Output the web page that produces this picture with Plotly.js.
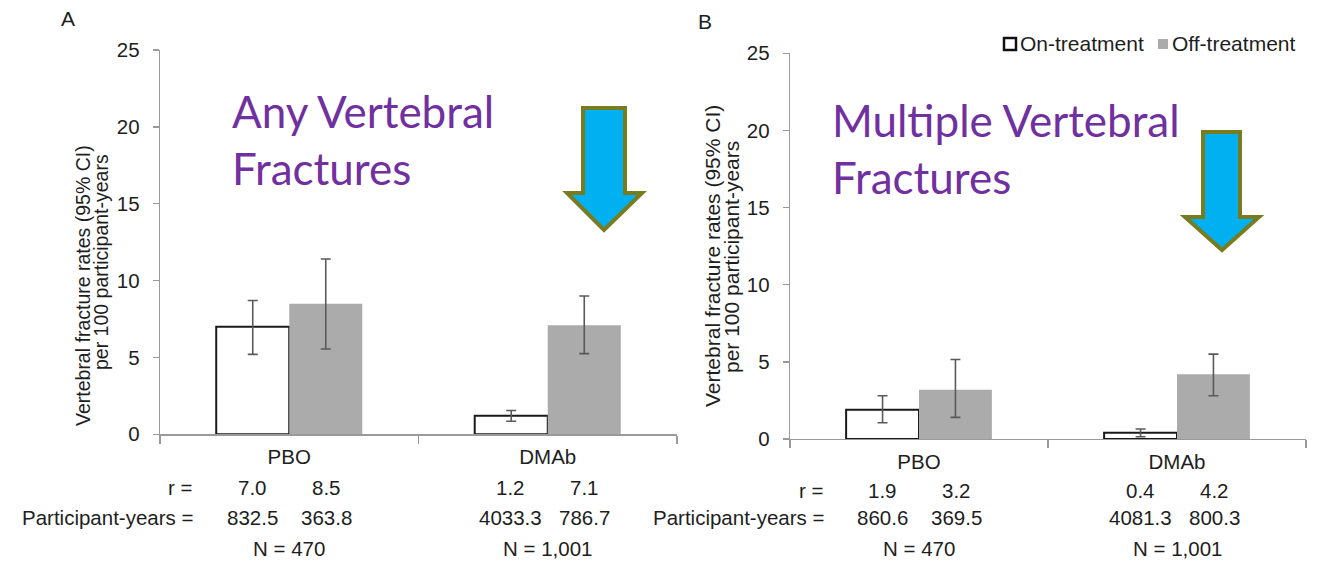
<!DOCTYPE html>
<html>
<head>
<meta charset="utf-8">
<script src="https://cdn.plot.ly/plotly-3.0.1.min.js"></script>
<style>
  html, body { margin: 0; padding: 0; background: #ffffff; }
  #chart { width: 1320px; height: 561px; }
</style>
</head>
<body>
<div id="chart"></div>
<script>
// ---------------- data ----------------
const categories = ['PBO', 'DMAb'];
const seriesNames = ['On-treatment', 'Off-treatment'];
const nLabels = ['470', '1,001'];

// Panel A: any vertebral fractures (rate per 100 participant-years, 95% CI)
const aOnRate = [7.0, 1.2];
const aOffRate = [8.5, 7.1];
const aOnLow = [5.2, 0.85];
const aOnHigh = [8.7, 1.55];
const aOffLow = [5.55, 5.25];
const aOffHigh = [11.4, 9.0];
const aOnPY = ['832.5', '4033.3'];
const aOffPY = ['363.8', '786.7'];

// Panel B: multiple vertebral fractures
const bOnRate = [1.9, 0.4];
const bOffRate = [3.2, 4.2];
const bOnLow = [1.05, 0.15];
const bOnHigh = [2.8, 0.65];
const bOffLow = [1.4, 2.8];
const bOffHigh = [5.15, 5.5];
const bOnPY = ['860.6', '4081.3'];
const bOffPY = ['369.5', '800.3'];

const yTicks = [0, 5, 10, 15, 20, 25];

// ---------------- helpers ----------------
const W = 1320, H = 561;
const px = v => v / W;
const py = v => 1 - v / H;
const FONT = 'Liberation Sans, Arial, sans-serif';
const TXT = '#1e1e1e';
const GRAY = '#ababab';
const FS = 20.5;

function errBar(rate, lo, hi) {
  return {
    type: 'data', symmetric: false,
    array: hi.map((h, i) => +(h - rate[i]).toFixed(3)),
    arrayminus: lo.map((l, i) => +(rate[i] - l).toFixed(3)),
    color: '#5a5a5a', thickness: 1.6, width: 5
  };
}
function onTrace(rate, lo, hi, xa, ya) {
  return {
    type: 'bar', name: seriesNames[0], x: categories, y: rate,
    xaxis: xa, yaxis: ya, legendgroup: 'on', showlegend: false,
    marker: { color: '#ffffff', line: { color: '#1a1a1a', width: 2 } },
    error_y: errBar(rate, lo, hi), hoverinfo: 'x+y'
  };
}
function offTrace(rate, lo, hi, xa, ya) {
  return {
    type: 'bar', name: seriesNames[1], x: categories, y: rate,
    xaxis: xa, yaxis: ya, legendgroup: 'off', showlegend: false,
    marker: { color: GRAY, line: { color: GRAY, width: 0 } },
    error_y: errBar(rate, lo, hi), hoverinfo: 'x+y'
  };
}

const data = [
  onTrace(aOnRate, aOnLow, aOnHigh, 'x', 'y'),
  offTrace(aOffRate, aOffLow, aOffHigh, 'x', 'y'),
  onTrace(bOnRate, bOnLow, bOnHigh, 'x2', 'y2'),
  offTrace(bOffRate, bOffLow, bOffHigh, 'x2', 'y2')
];

function xAxis(domain, anchor) {
  return {
    domain: domain, anchor: anchor, type: 'category',
    showline: true, linecolor: '#9a9a9a', linewidth: 1.3,
    ticks: 'outside', tickson: 'boundaries', ticklen: 8, tickwidth: 1.3, tickcolor: '#9a9a9a',
    showgrid: false, zeroline: false, automargin: false,
    tickfont: { family: FONT, size: FS, color: TXT }, ticklabelstandoff: 4,
    fixedrange: true
  };
}
function yAxis(domain, anchor) {
  return {
    domain: domain, anchor: anchor, range: [0, 25],
    tickvals: yTicks, ticktext: yTicks.map(String),
    showline: true, linecolor: '#9a9a9a', linewidth: 1.3,
    ticks: 'outside', ticklen: 6, tickwidth: 1.3, tickcolor: '#9a9a9a',
    showgrid: false, zeroline: false, automargin: false,
    tickfont: { family: FONT, size: FS, color: TXT }, ticklabelstandoff: 9,
    fixedrange: true
  };
}

// ---------------- annotations ----------------
const ann = [];
function txt(text, x, y, opts) {
  ann.push(Object.assign({
    text: text, x: x, y: y, xref: 'paper', yref: 'paper',
    showarrow: false, xanchor: 'center', yanchor: 'middle',
    font: { family: FONT, size: FS, color: TXT }
  }, opts || {}));
}

// panel letters
txt('A', px(68), py(18), { font: { family: FONT, size: 21, color: TXT } });
txt('B', px(705), py(22), { font: { family: FONT, size: 21, color: TXT } });

// y-axis titles (two lines each)
txt('Vertebral fracture rates (95% CI)', px(83), py(286), { textangle: -90, font: { family: FONT, size: 19.5, color: TXT } });
txt('per 100 participant-years', px(101), py(262), { textangle: -90, font: { family: FONT, size: 19.5, color: TXT } });
txt('Vertebral fracture rates (95% CI)', px(713), py(256), { textangle: -90, font: { family: FONT, size: 21, color: TXT } });
txt('per 100 participant-years', px(731), py(257), { textangle: -90, font: { family: FONT, size: 21, color: TXT } });

// purple headings
const PURPLE = '#7030a0';
txt('Any Vertebral<br>Fractures', px(230), py(140), { xanchor: 'left', align: 'left', font: { family: 'Lato, sans-serif', size: 44, color: PURPLE } });
txt('Multiple Vertebral<br>Fractures', px(830), py(148), { xanchor: 'left', align: 'left', font: { family: 'Lato, sans-serif', size: 44, color: PURPLE } });

// legend (drawn manually to match the compact reference legend)
txt(seriesNames[0], px(1018), py(44), { xanchor: 'left', font: { family: FONT, size: 21, color: TXT } });
txt(seriesNames[1], px(1170), py(44), { xanchor: 'left', font: { family: FONT, size: 21, color: TXT } });

// table rows under the bars
function tableRows(xref, labelRight, rowY, onRate, offRate, onPY, offPY) {
  txt('r =', px(labelRight), py(rowY[0]), { xanchor: 'right' });
  txt('Participant-years =', px(labelRight), py(rowY[1]), { xanchor: 'right' });
  const f = { family: FONT, size: FS, color: TXT };
  categories.forEach((c, i) => {
    const base = { xref: xref, x: c, yref: 'paper', showarrow: false, xanchor: 'center', yanchor: 'middle', font: f };
    ann.push(Object.assign({}, base, { text: onRate[i].toFixed(1), y: py(rowY[0]), xshift: -37 }));
    ann.push(Object.assign({}, base, { text: offRate[i].toFixed(1), y: py(rowY[0]), xshift: 37 }));
    ann.push(Object.assign({}, base, { text: onPY[i], y: py(rowY[1]), xshift: -37 }));
    ann.push(Object.assign({}, base, { text: offPY[i], y: py(rowY[1]), xshift: 37 }));
    ann.push(Object.assign({}, base, { text: 'N = ' + nLabels[i], y: py(rowY[2]) }));
  });
}
tableRows('x', 195, [487, 517.5, 548], aOnRate, aOffRate, aOnPY, aOffPY);
tableRows('x2', 826, [490, 517.5, 548], bOnRate, bOffRate, bOnPY, bOffPY);

// ---------------- shapes ----------------
function arrowPath(pts) {
  return 'M' + pts.map(p => px(p[0]).toFixed(5) + ',' + py(p[1]).toFixed(5)).join(' L') + ' Z';
}
const arrowStyle = { type: 'path', xref: 'paper', yref: 'paper', fillcolor: '#00b0f0', line: { color: '#787c1e', width: 4 }, layer: 'above' };
const shapes = [
  Object.assign({}, arrowStyle, { path: arrowPath([[583,108],[625,108],[625,193],[642,193],[604,230],[567,193],[583,193]]) }),
  Object.assign({}, arrowStyle, { path: arrowPath([[1203,132],[1240,132],[1240,217],[1259,217],[1222,250],[1185,217],[1203,217]]) }),
  // legend keys
  { type: 'rect', xref: 'paper', yref: 'paper', x0: px(1004), x1: px(1016), y0: py(50), y1: py(38), fillcolor: '#ffffff', line: { color: '#111111', width: 2.5 } },
  { type: 'rect', xref: 'paper', yref: 'paper', x0: px(1158), x1: px(1168), y0: py(49), y1: py(39), fillcolor: GRAY, line: { width: 0 } }
];

const layout = {
  width: W, height: H,
  margin: { l: 0, r: 0, t: 0, b: 0, pad: 0 },
  paper_bgcolor: '#ffffff', plot_bgcolor: 'rgba(0,0,0,0)',
  barmode: 'group', bargap: 0.435, bargroupgap: 0,
  showlegend: false,
  xaxis: xAxis([px(160), px(677)], 'y'),
  yaxis: yAxis([1 - 434.3 / H, 1 - 50 / H], 'x'),
  xaxis2: xAxis([px(790), px(1306)], 'y2'),
  yaxis2: yAxis([1 - 439 / H, 1 - 53.3 / H], 'x2'),
  annotations: ann,
  shapes: shapes
};

Plotly.newPlot('chart', data, layout, { displayModeBar: false, staticPlot: true });
</script>
</body>
</html>
